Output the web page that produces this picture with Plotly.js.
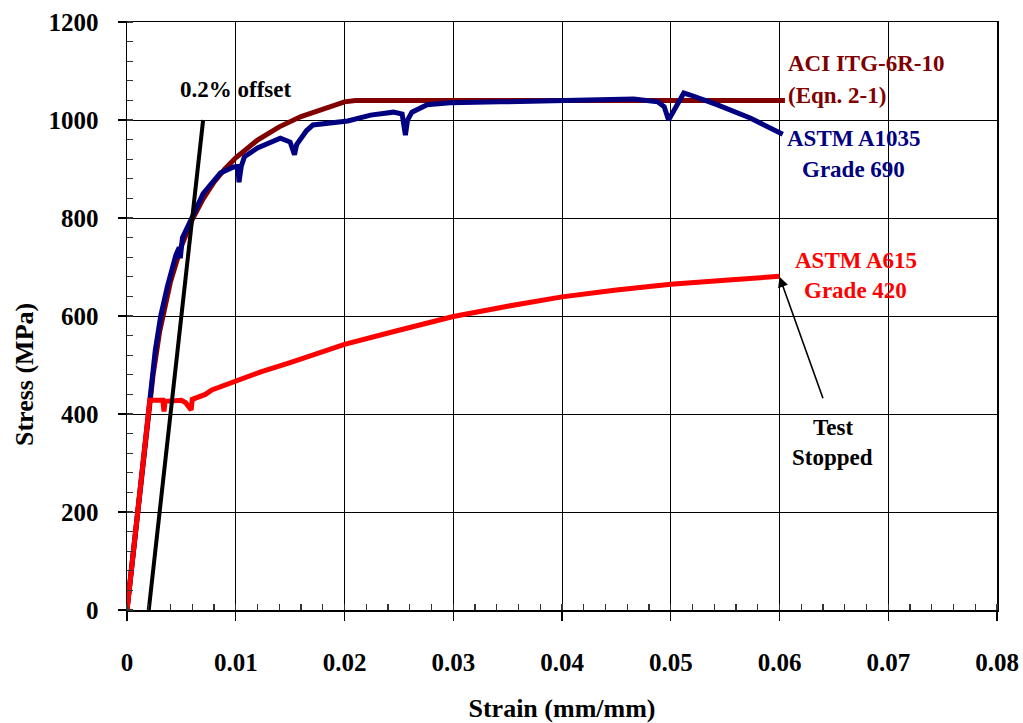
<!DOCTYPE html>
<html>
<head>
<meta charset="utf-8">
<script src="https://cdn.plot.ly/plotly-3.0.1.min.js"></script>
<style>
  html, body { margin: 0; padding: 0; background: #fff; }
  #chart { width: 1023px; height: 723px; }
</style>
</head>
<body>
<div id="chart"></div>
<script>
// ACI ITG-6R-10 (Eqn. 2-1) model curve
const aciStrain = [0, 0.0024, 0.003, 0.004, 0.005, 0.006, 0.007, 0.008, 0.009, 0.010, 0.012, 0.014, 0.016, 0.018, 0.020, 0.021, 0.0605];
const aciStress = [0, 480, 568, 670, 743, 797, 839, 873, 900, 923, 959, 986, 1007, 1023, 1037, 1040, 1040];

// ASTM A1035 Grade 690 test curve
const a1035Strain = [0, 0.0022, 0.0026, 0.0031, 0.0037, 0.0045, 0.0048, 0.0049, 0.0051, 0.0060, 0.0070, 0.0086, 0.0098, 0.0102, 0.0103, 0.0105, 0.0108, 0.0120, 0.0141, 0.0150, 0.0154, 0.0156, 0.0165, 0.0171, 0.0190, 0.0203, 0.0224, 0.0245, 0.0253, 0.0256, 0.0258, 0.0262, 0.0276, 0.0297, 0.0343, 0.0420, 0.0466, 0.0488, 0.0494, 0.0498, 0.0502, 0.0512, 0.0518, 0.0543, 0.0573, 0.0603];
const a1035Stress = [0, 440, 530, 600, 659, 725, 740, 718, 760, 802, 850, 892, 904, 905, 873, 905, 925, 943, 963, 955, 929, 950, 978, 990, 996, 998, 1010, 1016, 1012, 969, 1000, 1016, 1031, 1035, 1037, 1041, 1043, 1037, 1027, 1000, 1016, 1055, 1051, 1031, 1004, 971];

// ASTM A615 Grade 420 test curve
const a615Strain = [0, 0.0021, 0.0033, 0.0034, 0.0035, 0.0050, 0.0054, 0.0059, 0.0060, 0.0066, 0.0072, 0.0078, 0.0095, 0.010, 0.0123, 0.015, 0.020, 0.025, 0.030, 0.035, 0.040, 0.045, 0.050, 0.055, 0.060];
const a615Stress = [0, 428, 428, 405, 426, 428, 423, 408, 430, 436, 440, 449, 464, 467, 486, 505, 542, 571, 599, 620, 639, 653, 665, 673, 681];

// 0.2% offset line
const offsetStrain = [0.002, 0.007];
const offsetStress = [0, 1000];

// Axis ticks
const xTicks = [0, 0.01, 0.02, 0.03, 0.04, 0.05, 0.06, 0.07, 0.08];
const xTickText = ['0', '0.01', '0.02', '0.03', '0.04', '0.05', '0.06', '0.07', '0.08'];
const yTicks = [0, 200, 400, 600, 800, 1000, 1200];
const yTickText = ['0', '200', '400', '600', '800', '1000', '1200'];

const FONT = 'Liberation Serif, Times New Roman, serif';
const BROWN = '#800000';
const NAVY = '#000080';
const RED = '#ff0000';

const traces = [
  { x: aciStrain, y: aciStress, mode: 'lines', name: 'ACI ITG-6R-10', line: { color: BROWN, width: 5 } },
  { x: a1035Strain, y: a1035Stress, mode: 'lines', name: 'ASTM A1035', line: { color: NAVY, width: 5 } },
  { x: a615Strain, y: a615Stress, mode: 'lines', name: 'ASTM A615', line: { color: RED, width: 5 } },
  { x: offsetStrain, y: offsetStress, mode: 'lines', name: '0.2% offset', line: { color: '#000000', width: 4 } }
];

function lab(text, x, y, color, xanchor) {
  return { text: text, x: x, y: y, xref: 'x', yref: 'y', showarrow: false,
           xanchor: xanchor || 'center', yanchor: 'middle',
           font: { family: FONT, size: 23, color: color, weight: 'bold' } };
}

const annotations = [
  lab('0.2% offset', 0.00998, 1062, '#000000'),
  lab('ACI ITG-6R-10', 0.0606, 1116, BROWN, 'left'),
  lab('(Eqn. 2-1)', 0.0606, 1051, BROWN, 'left'),
  lab('ASTM A1035', 0.0605, 963, NAVY, 'left'),
  lab('Grade 690', 0.0668, 898, NAVY),
  lab('ASTM A615', 0.0670, 714, RED),
  lab('Grade 420', 0.0670, 653, RED),
  lab('Test', 0.0649, 372, '#000000'),
  lab('Stopped', 0.0649, 311, '#000000'),
  { x: 0.060, y: 680, xref: 'x', yref: 'y', text: '', showarrow: true,
    ax: 44, ay: 123, arrowhead: 2, arrowsize: 1.3, arrowwidth: 1.6, arrowcolor: '#000000' },
  { text: 'Stress (MPa)', xref: 'paper', yref: 'paper', x: -0.117, y: 0.40,
    xanchor: 'center', yanchor: 'middle', textangle: -90, showarrow: false,
    font: { family: FONT, size: 26, color: '#000000', weight: 'bold' } }
];

const layout = {
  width: 1023, height: 723,
  margin: { l: 126.5, r: 26, t: 22, b: 112.5 },
  paper_bgcolor: '#ffffff', plot_bgcolor: '#ffffff',
  showlegend: false,
  font: { family: FONT, color: '#000000' },
  xaxis: {
    range: [0, 0.08], tickvals: xTicks, ticktext: xTickText,
    showgrid: true, gridcolor: '#000000', gridwidth: 1,
    zeroline: false, showline: true, linecolor: '#000000', linewidth: 1.5, mirror: true,
    ticks: 'outside', ticklen: 9, tickcolor: '#000000', tickwidth: 1.3,
    ticklabelstandoff: 20,
    tickfont: { family: FONT, size: 25, color: '#000000', weight: 'bold' },
    minor: { dtick: 0.002, ticks: 'inside', ticklen: 6, tickcolor: '#333333', tickwidth: 1.2, showgrid: false },
    title: { text: 'Strain (mm/mm)', standoff: 36,
             font: { family: FONT, size: 26, color: '#000000', weight: 'bold' } },
    automargin: false
  },
  yaxis: {
    range: [0, 1200], tickvals: yTicks, ticktext: yTickText,
    showgrid: true, gridcolor: '#000000', gridwidth: 1,
    zeroline: false, showline: true, linecolor: '#000000', linewidth: 1.5, mirror: true,
    ticks: 'outside', ticklen: 8, tickcolor: '#000000', tickwidth: 1.3,
    ticklabelstandoff: 14,
    tickfont: { family: FONT, size: 25, color: '#000000', weight: 'bold' },
    minor: { dtick: 40, ticks: 'inside', ticklen: 6, tickcolor: '#333333', tickwidth: 1.2, showgrid: false },
    automargin: false
  },
  annotations: annotations
};

Plotly.newPlot('chart', traces, layout, { displayModeBar: false, staticPlot: true });
</script>
</body>
</html>
